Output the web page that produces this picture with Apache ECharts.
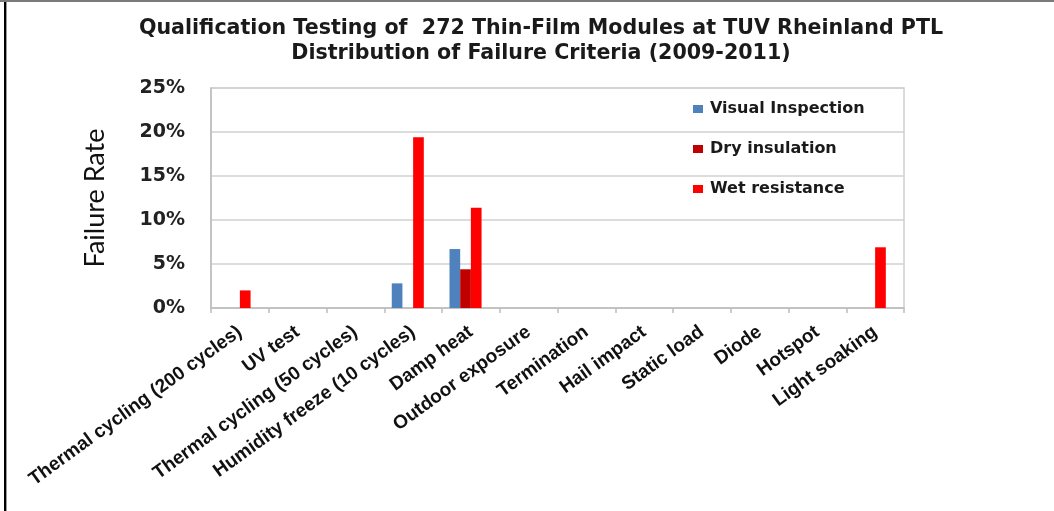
<!DOCTYPE html>
<html>
<head>
<meta charset="utf-8">
<script src="https://cdn.jsdelivr.net/npm/echarts@6/dist/echarts.min.js"></script>
<style>
  html, body { margin: 0; padding: 0; background: #ffffff; }
  #chart { width: 1054px; height: 511px; }
</style>
</head>
<body>
<div id="chart"></div>
<script>
// Test categories along the x axis
const categories = [
  'Thermal cycling (200 cycles)', 'UV test', 'Thermal cycling (50 cycles)',
  'Humidity freeze (10 cycles)', 'Damp heat', 'Outdoor exposure',
  'Termination', 'Hail impact', 'Static load', 'Diode', 'Hotspot', 'Light soaking'
];

// Failure rate per criterion, in percent (null = no failures)
const visualInspection = [null, null, null, 2.8, 6.7, null, null, null, null, null, null, null];
const dryInsulation    = [null, null, null, null, 4.4, null, null, null, null, null, null, null];
const wetResistance    = [2.0, null, null, 19.4, 11.4, null, null, null, null, null, null, 6.9];
// Empty fourth column kept in every category group
const reservedSlot     = [null, null, null, null, null, null, null, null, null, null, null, null];

const seriesNames = ['Visual Inspection', 'Dry insulation', 'Wet resistance'];
const seriesColors = ['#4F81BD', '#C00000', '#FF0000'];

// Y axis range / step (percent)
const yMin = 0, yMax = 25, yStep = 5;

const chart = echarts.init(document.getElementById('chart'), null, { renderer: 'canvas' });

const barSeries = [visualInspection, dryInsulation, wetResistance].map((data, i) => ({
  name: seriesNames[i],
  type: 'bar',
  data: data,
  barGap: '0%',
  barCategoryGap: '26%',
  itemStyle: { color: seriesColors[i] }
}));
barSeries.push({
  name: 'reserved',
  type: 'bar',
  data: reservedSlot,
  barGap: '0%',
  barCategoryGap: '26%',
  itemStyle: { color: 'transparent' },
  silent: true
});

chart.setOption({
  animation: false,
  backgroundColor: '#ffffff',
  title: {
    text: 'Qualification Testing of  272 Thin-Film Modules at TUV Rheinland PTL\nDistribution of Failure Criteria (2009-2011)',
    left: 536,
    top: 11,
    textAlign: 'center',
    textStyle: {
      fontFamily: 'DejaVu Sans',
      fontWeight: 'bold',
      fontSize: 20.6,
      lineHeight: 25,
      color: '#1a1a1a'
    }
  },
  legend: {
    data: seriesNames,
    orient: 'vertical',
    left: 688,
    top: 96,
    itemWidth: 10,
    itemHeight: 8,
    itemGap: 24,
    icon: 'rect',
    textStyle: {
      fontFamily: 'DejaVu Sans',
      fontWeight: 'bold',
      fontSize: 16,
      color: '#1a1a1a',
      padding: [0, 0, 0, 2]
    }
  },
  grid: {
    left: 211,
    right: 150,
    top: 88,
    bottom: 203,
    show: true,
    borderColor: '#d0d0d0',
    borderWidth: 1.5,
    containLabel: false
  },
  xAxis: {
    type: 'category',
    data: categories,
    boundaryGap: true,
    axisLine: { lineStyle: { color: '#bdbdbd', width: 1.5 } },
    axisTick: { show: true, alignWithLabel: false, length: 5, lineStyle: { color: '#bdbdbd', width: 1.5 } },
    axisLabel: {
      interval: 0,
      rotate: 36,
      margin: 22,
      fontFamily: 'Liberation Sans',
      fontWeight: 'bold',
      fontSize: 19,
      color: '#111111'
    },
    splitLine: { show: false }
  },
  yAxis: {
    type: 'value',
    min: yMin,
    max: yMax,
    interval: yStep,
    name: 'Failure Rate',
    nameLocation: 'middle',
    nameGap: 102,
    nameTextStyle: {
      fontFamily: 'Lato',
      fontSize: 27,
      color: '#111111'
    },
    axisLine: { show: true, lineStyle: { color: '#bdbdbd', width: 1.5 } },
    axisTick: { show: false },
    axisLabel: {
      margin: 26,
      formatter: v => v + '%',
      fontFamily: 'DejaVu Sans',
      fontWeight: 'bold',
      fontSize: 19,
      color: '#222222'
    },
    splitLine: { lineStyle: { color: '#d0d0d0', width: 1.5 } }
  },
  series: barSeries,
  graphic: [
    { type: 'rect', shape: { x: 4, y: 0, width: 2, height: 511 }, style: { fill: '#000000' }, silent: true },
    { type: 'rect', shape: { x: 6, y: 0, width: 1, height: 511 }, style: { fill: '#9a9a9a' }, silent: true },
    { type: 'rect', shape: { x: 0, y: 0, width: 1054, height: 2 }, style: { fill: '#7a7a7a' }, silent: true }
  ]
});
</script>
</body>
</html>
